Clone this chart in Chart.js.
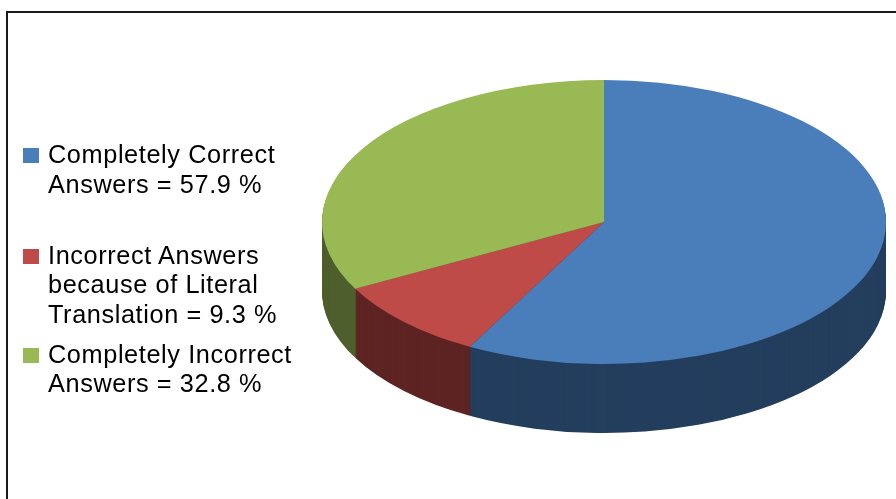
<!DOCTYPE html>
<html>
<head>
<meta charset="utf-8">
<script src="https://cdn.jsdelivr.net/npm/chart.js@4"></script>
<style>
    html, body { margin: 0; padding: 0; background: #fff; overflow: hidden; }
    #wrap { position: relative; width: 896px; height: 499px; }
    #frame { position: absolute; left: 6px; top: 11px; width: 1000px; height: 600px; border: 2px solid #1a1a1a; }
    #chart { position: absolute; left: 0; top: 0; }
    .item { position: absolute; left: 23px; width: 285px; font-family: 'Liberation Sans', Arial, sans-serif;
            font-size: 25.3px; line-height: 29.7px; letter-spacing: 0.6px; color: #000; }
    .item .box { position: absolute; left: 0; top: 8px; width: 16px; height: 15px; }
    .item .txt { margin-left: 25px; width: 260px; }
</style>
</head>
<body>
<div id="wrap">
    <div id="frame"></div>
    <canvas id="chart" width="896" height="499"></canvas>
    <div id="legend"></div>
</div>
<script>
// data
var CATEGORIES = ['Completely Correct Answers', 'Incorrect Answers because of Literal Translation', 'Completely Incorrect Answers'];
var VALUES = [57.9, 9.3, 32.8];
var TOP_COLORS = ['#4A7EBB', '#BE4B48', '#98B954'];
var SIDE_COLORS = ['#243E5E', '#5E2424', '#4E5E2C'];

// where the 3d pie sits on the page (top face ellipse + wall height)
var PIE_CX = 604, PIE_CY = 222, PIE_RX = 282, PIE_RY = 142, PIE_DEPTH = 69;

// squashes the library's round pie into an ellipse and stacks darker copies under it for the walls
var pie3d = {
    id: 'pie3d',
    beforeDatasetsDraw: function (chart) {
        var ctx = chart.ctx;
        var arcs = chart.getDatasetMeta(0).data;
        var r = arcs[0].outerRadius;

        ctx.save();
        ctx.translate(PIE_CX, PIE_CY);
        ctx.scale(PIE_RX / r, PIE_RY / r);
        ctx.translate(-arcs[0].x, -arcs[0].y);

        var step = r / PIE_RY; // one screen pixel downwards
        for (var k = PIE_DEPTH; k >= 0; k--) {
            ctx.save();
            ctx.translate(0, k * step);
            arcs.forEach(function (arc, i) {
                var opts = arc.options;
                if (k > 0) arc.options = Object.assign({}, opts, { backgroundColor: SIDE_COLORS[i] });
                arc.draw(ctx);
                arc.options = opts;
            });
            ctx.restore();
        }
        ctx.restore();
        return false; // we drew it ourselves
    }
};

new Chart(document.getElementById('chart'), {
    type: 'pie',
    data: {
        labels: CATEGORIES,
        datasets: [{
            data: VALUES,
            backgroundColor: TOP_COLORS,
            borderWidth: 0
        }]
    },
    options: {
        responsive: false,
        animation: false,
        events: [],
        plugins: {
            legend: { display: false },
            tooltip: { enabled: false }
        }
    },
    plugins: [pie3d]
});

// legend on the left, built from the same arrays
function buildLegend() {
    var tops = [140, 240.5, 339.5]; // excel spaces these unevenly
    var legend = document.getElementById('legend');
    CATEGORIES.forEach(function (name, i) {
        var item = document.createElement('div');
        item.className = 'item';
        item.style.top = tops[i] + 'px';
        var box = document.createElement('div');
        box.className = 'box';
        box.style.background = TOP_COLORS[i];
        var txt = document.createElement('div');
        txt.className = 'txt';
        txt.textContent = name + ' = ' + VALUES[i] + ' %';
        item.appendChild(box);
        item.appendChild(txt);
        legend.appendChild(item);
    });
}
buildLegend();
</script>
</body>
</html>
